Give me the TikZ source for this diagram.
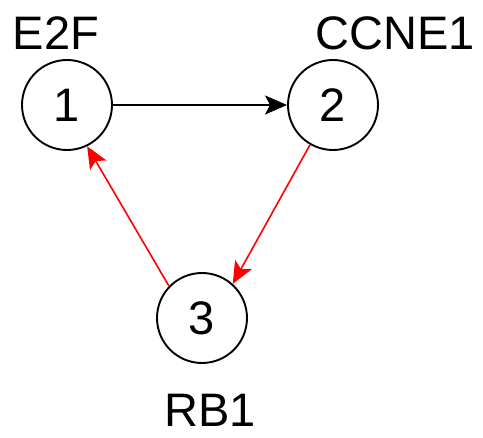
\documentclass[tikz,border=0pt]{standalone}
\usepackage{fontspec}
\setmainfont{Liberation Sans}
\usetikzlibrary{arrows.meta}
\begin{document}
\begin{tikzpicture}[x=1pt,y=-1pt,
  state/.style={circle,draw=black,line width=1.9pt,minimum size=90pt,inner sep=0pt,font=\fontsize{47}{50}\selectfont},
  lbl/.style={anchor=base,inner sep=0pt,font=\fontsize{47}{50}\selectfont},
  blk/.style={draw=black,line width=2pt,-{Stealth[length=22pt,width=19pt,inset=5pt]}},
  redarr/.style={draw=red,line width=1.6pt,-{Stealth[length=22pt,width=19pt,inset=5pt]}}]
\useasboundingbox (0,0) rectangle (483,438);
\node[state] (n1) at (67,105) {1};
\node[state] (n2) at (333,105) {2};
\node[state] (n3) at (202,318) {3};
\node[lbl] (l1) at (56,50) {E2F};
\node[lbl] (l2) at (395,50) {CCNE1};
\node[lbl] (l3) at (210,427) {RB1};
\draw[blk] (n1) -- (n2);
\draw[redarr] (n2.240) -- (n3.48);
\draw[redarr] (n3.136) -- (n1.-64);
\end{tikzpicture}
\end{document}
